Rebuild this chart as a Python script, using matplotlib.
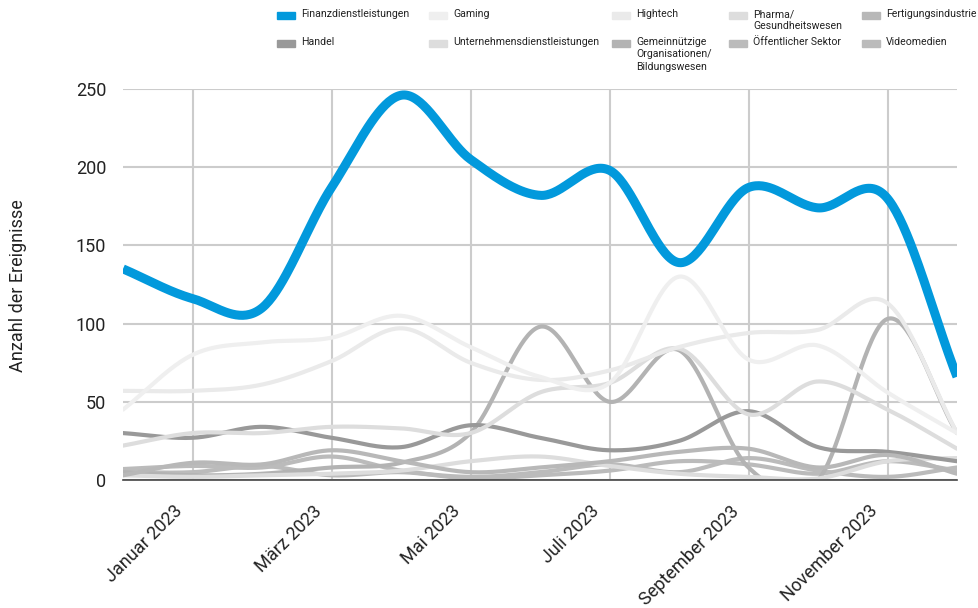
import numpy as np
import matplotlib
matplotlib.use("Agg")
import matplotlib.pyplot as plt
from matplotlib.patches import Rectangle
from matplotlib.transforms import ScaledTranslation

plt.rcParams['font.family'] = ['Roboto', 'DejaVu Sans']

# Monthly periods, December 2022 to December 2023
months = ["Dez 2022", "Januar 2023", "Feb 2023", "März 2023", "Apr 2023", "Mai 2023",
          "Jun 2023", "Juli 2023", "Aug 2023", "September 2023", "Okt 2023",
          "November 2023", "Dez 2023"]
tick_idx = [1, 3, 5, 7, 9, 11]
tick_labels = [months[i] for i in tick_idx]

series_names = ["Finanzdienstleistungen", "Gaming", "Hightech", "Pharma/\nGesundheitswesen",
                "Fertigungsindustrie", "Handel", "Unternehmensdienstleistungen",
                "Gemeinnützige\nOrganisationen/\nBildungswesen", "Öffentlicher Sektor",
                "Videomedien"]
series_colors = ["#0299dc", "#efefef", "#eaeaea", "#dddddd", "#b8b8b8", "#999999",
                 "#dddddd", "#b3b3b3", "#bbbbbb", "#bbbbbb"]

finanz = [135, 116, 110, 187, 246, 205, 182, 198, 139, 187, 174, 180, 66]
gaming = [45, 80, 88, 91, 105, 85, 66, 62, 130, 77, 86, 56, 30]
hightech = [57, 57, 61, 76, 97, 75, 64, 70, 85, 94, 96, 113, 30]
pharma = [22, 30, 30, 34, 33, 30, 56, 62, 84, 42, 63, 45, 20]
fertigung = [3, 11, 10, 19, 12, 5, 8, 12, 18, 20, 8, 16, 4]
handel = [30, 27, 34, 27, 21, 35, 27, 19, 25, 44, 21, 18, 12]
unternehmen = [3, 2, 3, 4, 6, 12, 15, 9, 4, 2, 1, 12, 14]
gemeinnuetzig = [5, 3, 4, 8, 11, 30, 98, 50, 83, 8, 0, 103, 30]
oeffentlich = [7, 9, 8, 15, 6, 2, 5, 10, 5, 14, 6, 2, 8]
videomedien = [5, 5, 9, 3, 5, 1, 3, 6, 12, 10, 4, 12, 6]

all_series = [finanz, gaming, hightech, pharma, fertigung, handel, unternehmen,
              gemeinnuetzig, oeffentlich, videomedien]


def smooth_curve(values, steps=40):
    """Catmull-Rom spline through the monthly points."""
    y = np.asarray(values, dtype=float)
    n = len(y)
    m = np.zeros(n)
    m[1:-1] = (y[2:] - y[:-2]) / 2.0
    m[0] = y[1] - y[0]
    m[-1] = y[-1] - y[-2]
    xs, ys = [], []
    t = np.linspace(0, 1, steps, endpoint=False)
    h00 = 2 * t**3 - 3 * t**2 + 1
    h10 = t**3 - 2 * t**2 + t
    h01 = -2 * t**3 + 3 * t**2
    h11 = t**3 - t**2
    for i in range(n - 1):
        xs.append(i + t)
        ys.append(h00 * y[i] + h10 * m[i] + h01 * y[i + 1] + h11 * m[i + 1])
    xs.append(np.array([n - 1.0]))
    ys.append(np.array([y[-1]]))
    return np.concatenate(xs), np.concatenate(ys)


W, H = 979, 608
fig = plt.figure(figsize=(W / 100, H / 100), dpi=100)
ax = fig.add_axes([123 / W, 1 - 480 / H, (957 - 123) / W, (480 - 89) / H])

ax.set_xlim(0, len(months) - 1)
ax.set_ylim(0, 250)

# grey series first, highlighted series on top
for k in range(len(all_series) - 1, -1, -1):
    xs, ys = smooth_curve(all_series[k])
    if k == 0:
        ax.plot(xs, ys, color=series_colors[k], lw=6.5, solid_capstyle='butt', zorder=10)
    else:
        ax.plot(xs, ys, color=series_colors[k], lw=3.0, solid_capstyle='round', zorder=3)

ax.set_yticks([0, 50, 100, 150, 200, 250])
ax.set_xticks(tick_idx)
ax.tick_params(axis='y', labelsize=13, colors='#222222', length=0, pad=12)
ax.tick_params(axis='x', length=0, pad=8)
ax.set_xticklabels(tick_labels, rotation=45, ha='right', va='top', rotation_mode='anchor',
                   fontsize=13, color='#222222')
shift = ScaledTranslation(-19 / 100, -11 / 100, fig.dpi_scale_trans)
for lbl in ax.get_xticklabels():
    lbl.set_transform(lbl.get_transform() + shift)
ax.grid(True, color='#cccccc', lw=1.5, zorder=0)
for s in ['top', 'right', 'left']:
    ax.spines[s].set_visible(False)
ax.spines['bottom'].set_color('#444444')
ax.spines['bottom'].set_linewidth(1.2)
ax.spines['bottom'].set_zorder(12)
ax.set_axisbelow(True)

fig.text(18 / W, 1 - 286 / H, "Anzahl der Ereignisse", rotation=90, ha='center', va='center',
         fontsize=13, color='#222222')

# Legend in two rows of five columns along the top
col_x = [277, 429, 612, 729, 862]
row_y = [15, 43]
for k, name in enumerate(series_names):
    r, c = divmod(k, 5)
    sx, sy = col_x[c], row_y[r]
    fig.patches.append(Rectangle((sx / W, 1 - (sy + 3.5) / H), 18 / W, 7 / H,
                                 transform=fig.transFigure, color=series_colors[k]))
    fig.text((sx + 24) / W, 1 - (sy - 6) / H, name, ha='left', va='top', fontsize=7.6,
             color='#222222', linespacing=1.3)

fig.savefig("out.png", dpi=100)
